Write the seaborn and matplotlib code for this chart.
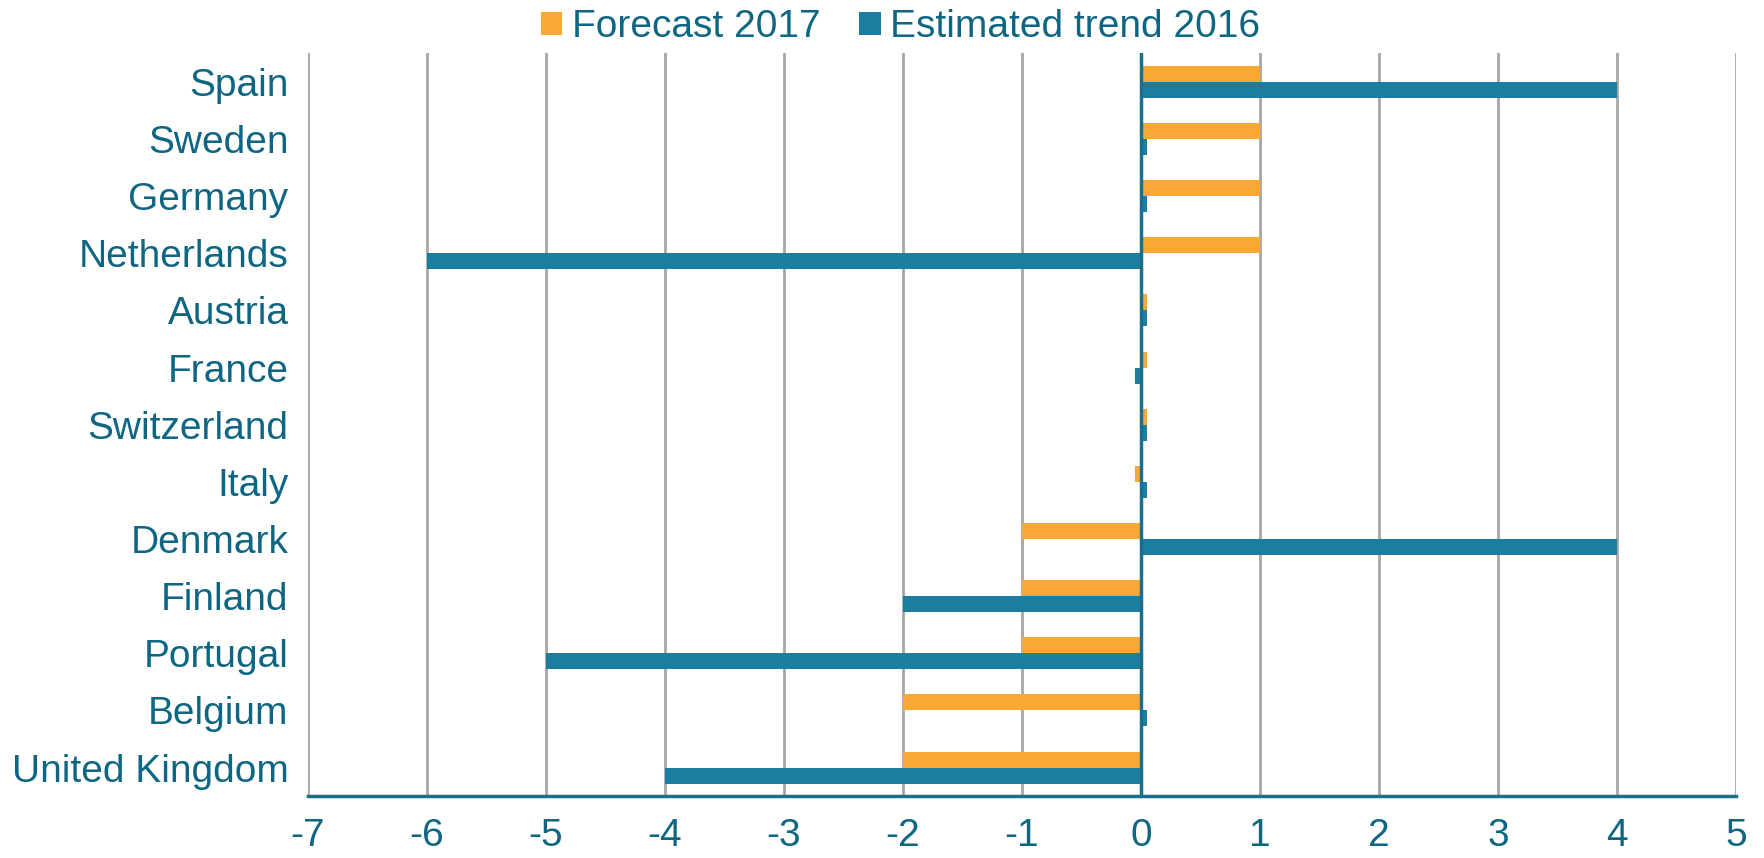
import pandas as pd
import matplotlib.pyplot as plt
import seaborn as sns

# data
countries = ['Spain', 'Sweden', 'Germany', 'Netherlands', 'Austria', 'France',
             'Switzerland', 'Italy', 'Denmark', 'Finland', 'Portugal', 'Belgium',
             'United Kingdom']
forecast_2017 = [1, 1, 1, 1, 0.05, 0.05, 0.05, -0.05, -1, -1, -1, -2, -2]
trend_2016 = [4, 0.05, 0.05, -6, 0.05, -0.05, 0.05, 0.05, 4, -2, -5, 0.05, -4]
x_ticks = list(range(-7, 6))

series = ['Forecast 2017', 'Estimated trend 2016']

df = pd.DataFrame({
    'country': countries * 2,
    'value': forecast_2017 + trend_2016,
    'series': [series[0]] * len(countries) + [series[1]] * len(countries),
})

text_col = '#0E6683'
sns.set_style('white')
plt.rcParams['font.family'] = ['Liberation Sans', 'DejaVu Sans']

fig = plt.figure(figsize=(17.65, 8.58), dpi=100)
ax = fig.add_axes([0.1745, 0.072, 0.809, 0.866])

sns.barplot(data=df, y='country', x='value', hue='series', orient='h',
            palette=['#F9A834', '#1B7DA0'], width=0.56, ax=ax, saturation=1,
            linewidth=0)

ax.set_xlim(-7, 5)
ax.set_ylim(12.5, -0.5)
ax.set_xticks(x_ticks)
ax.set_xticklabels([str(t) for t in x_ticks])
ax.grid(axis='x', color='#A6A6A6', linewidth=2)
ax.set_axisbelow(True)
ax.axvline(0, color='#1B6F8C', linewidth=2.5, zorder=3)
for s in ['top', 'right', 'left']:
    ax.spines[s].set_visible(False)
ax.spines['bottom'].set_color('#1B6F8C')
ax.spines['bottom'].set_linewidth(2.5)
ax.tick_params(axis='both', length=0, labelsize=28, labelcolor=text_col)
ax.tick_params(axis='x', pad=16)
ax.tick_params(axis='y', pad=14)
ax.set_xlabel('')
ax.set_ylabel('')

ax.legend(loc='lower center', bbox_to_anchor=(0.415, 0.99), ncol=2, frameon=False,
          fontsize=28, labelcolor=text_col, handlelength=0.55, handleheight=0.55,
          handletextpad=0.25, columnspacing=1.0, borderaxespad=0)

fig.savefig('out.png', dpi=100)
